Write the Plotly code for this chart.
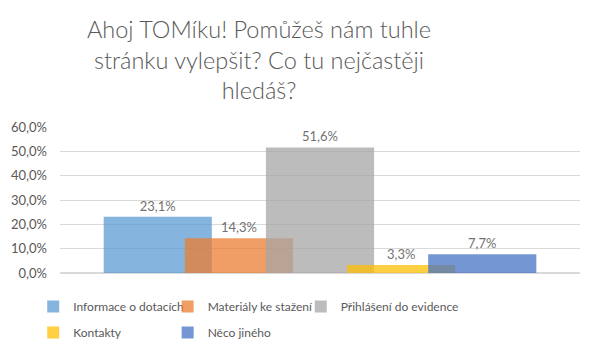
import plotly.graph_objects as go

series = ["Informace o dotacích", "Materiály ke stažení", "Přihlášení do evidence", "Kontakty", "Něco jiného"]
values = [0.231, 0.143, 0.516, 0.033, 0.077]
colors = ["#5B9BD5", "#ED7D31", "#A5A5A5", "#FFC000", "#4472C4"]
legend_cols = ["legend", "legend2", "legend3", "legend", "legend2"]

bar_w = 0.208
step = 0.75 * bar_w
n = len(series)

fig = go.Figure()
for i, (name, v, c) in enumerate(zip(series, values, colors)):
    fig.add_trace(go.Bar(
        x=[0], y=[v], name=name,
        marker=dict(color=c, line=dict(width=0)),
        opacity=0.74,
        width=bar_w,
        offset=(i - (n - 1) / 2) * step - bar_w / 2,
        text=[v], texttemplate="%{y:.1%}", textposition="outside",
        textfont=dict(family="Lato", size=13, color="#404040"),
        cliponaxis=False,
        hoverinfo="skip",
        legend=legend_cols[i],
        legendgroup=f"g{i}",
    ))

leg_common = dict(orientation="v", yanchor="top", xanchor="left", xref="paper", yref="container",
                  y=1 - 292 / 354, traceorder="grouped", tracegroupgap=7, itemwidth=30,
                  font=dict(family="Lato", size=12, color="#595959"), bgcolor="rgba(0,0,0,0)")

fig.update_layout(
    width=598, height=354,
    margin=dict(l=60, r=18, t=127, b=81, autoexpand=False),
    barmode="overlay",
    separators=",.",
    paper_bgcolor="white", plot_bgcolor="white",
    title=dict(
        text="Ahoj TOMíku! Pomůžeš nám tuhle<br>stránku vylepšit? Co tu nejčastěji<br>hledáš?",
        x=259 / 598, xanchor="center", xref="container",
        y=1 - 38 / 354, yanchor="middle", yref="container",
        font=dict(family="Lato", size=23.5, color="#595959", weight=300),
    ),
    xaxis=dict(range=[-0.5, 0.5], showticklabels=False, showgrid=False, zeroline=False,
               showline=False, fixedrange=True),
    yaxis=dict(range=[0, 0.6], dtick=0.1, tickformat=".1%", showgrid=True,
               gridcolor="#D9D9D9", gridwidth=1, zeroline=True, zerolinecolor="#D9D9D9",
               showline=False, ticks="", ticklabelstandoff=12,
               tickfont=dict(family="Lato", size=13, color="#595959")),
    showlegend=True,
    legend=dict(x=-0.0515, **leg_common),
    legend2=dict(x=0.207, **leg_common),
    legend3=dict(x=0.463, **leg_common),
)

fig.write_html("out.html")
